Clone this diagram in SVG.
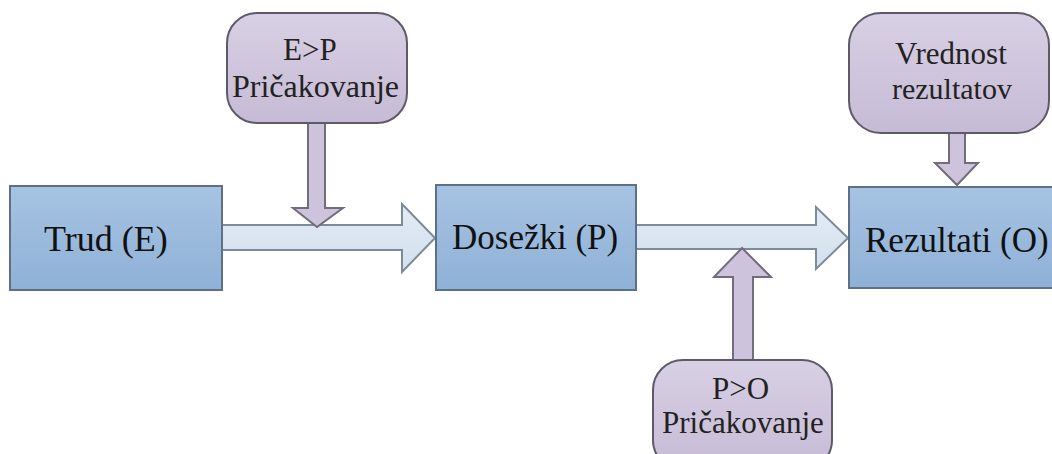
<svg xmlns="http://www.w3.org/2000/svg" width="1052" height="454" viewBox="0 0 1052 454">
<defs>
<linearGradient id="gBlue" x1="0" y1="0" x2="0" y2="1">
<stop offset="0" stop-color="#a6c3e2"/>
<stop offset="1" stop-color="#8fb1d7"/>
</linearGradient>
<linearGradient id="gPurple" x1="0" y1="0" x2="0" y2="1">
<stop offset="0" stop-color="#d8d0e4"/>
<stop offset="1" stop-color="#c6bbd6"/>
</linearGradient>
<linearGradient id="gArrow" x1="0" y1="0" x2="0" y2="1">
<stop offset="0" stop-color="#e3ebf5"/>
<stop offset="1" stop-color="#d3e0ef"/>
</linearGradient>
</defs>
<rect width="1052" height="454" fill="#ffffff"/>
<g id="connectors" stroke-width="2" stroke-linejoin="miter">
<path fill="url(#gArrow)" stroke="#7d8a98" d="M222,225 H402 V204 L435,238 L402,272 V250 H222 Z"/>
<path fill="url(#gArrow)" stroke="#7d8a98" d="M636,225 H816 V207 L848,238 L816,269 V249 H636 Z"/>
<path fill="#cdc3dc" stroke="#726c7c" d="M308,123 H325 V208 H343 L317,227 L293,208 H308 Z"/>
<path fill="#cdc3dc" stroke="#726c7c" d="M949,133 H965 V163 H978 L957,185 L935,163 H949 Z"/>
<path fill="#cdc3dc" stroke="#726c7c" d="M733,360 V277 H714 L742,248 L771,277 H753 V360 Z"/>
</g>
<g id="trud">
<rect fill="url(#gBlue)" stroke="#5d7088" stroke-width="2" x="10" y="186" width="212" height="104"/>
<text x="44" y="251" font-family="'Times New Roman', 'Liberation Serif', serif" font-size="36" fill="#111">Trud (E)</text>
</g>
<g id="dosezki">
<rect fill="url(#gBlue)" stroke="#5d7088" stroke-width="2" x="436" y="185" width="200" height="105"/>
<text x="452" y="249" font-family="'Times New Roman', 'Liberation Serif', serif" font-size="35" fill="#111">Dosežki (P)</text>
</g>
<g id="rezultati">
<rect fill="url(#gBlue)" stroke="#5d7088" stroke-width="2" x="849" y="187" width="212" height="101"/>
<text x="865" y="252" font-family="'Times New Roman', 'Liberation Serif', serif" font-size="35" fill="#111">Rezultati (O)</text>
</g>
<g id="ep">
<rect fill="url(#gPurple)" stroke="#5f5a68" stroke-width="2" x="227" y="13" width="180" height="110" rx="30" ry="30"/>
<text x="283" y="60" font-family="'Times New Roman', 'Liberation Serif', serif" font-size="31" fill="#222">E&gt;P</text>
<text x="232" y="97" font-family="'Times New Roman', 'Liberation Serif', serif" font-size="32" fill="#222">Pričakovanje</text>
</g>
<g id="vrednost">
<rect fill="url(#gPurple)" stroke="#5f5a68" stroke-width="2" x="849" y="13" width="200" height="120" rx="32" ry="32"/>
<text x="895" y="64" font-family="'Times New Roman', 'Liberation Serif', serif" font-size="31" fill="#222">Vrednost</text>
<text x="892" y="99" font-family="'Times New Roman', 'Liberation Serif', serif" font-size="30" fill="#222">rezultatov</text>
</g>
<g id="po">
<rect fill="url(#gPurple)" stroke="#5f5a68" stroke-width="2" x="653" y="360" width="179" height="110" rx="30" ry="30"/>
<text x="712" y="399" font-family="'Times New Roman', 'Liberation Serif', serif" font-size="31" fill="#222">P&gt;O</text>
<text x="662" y="433" font-family="'Times New Roman', 'Liberation Serif', serif" font-size="31" fill="#222">Pričakovanje</text>
</g>
</svg>
